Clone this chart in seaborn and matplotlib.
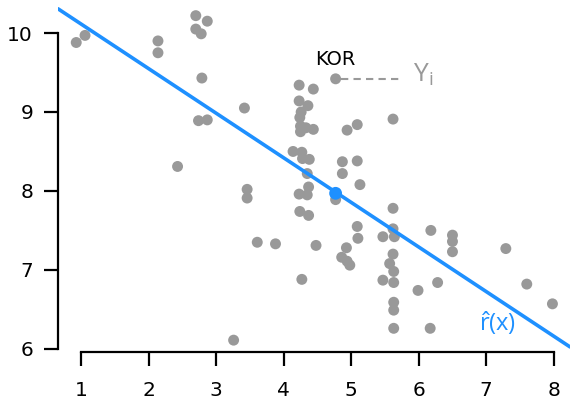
import numpy as np
import pandas as pd
import matplotlib
matplotlib.use("Agg")
import matplotlib.pyplot as plt
import seaborn as sns

# points
x_vals = [0.93, 1.06, 2.14, 2.14, 2.70, 2.87, 2.70, 2.78, 2.79, 3.42, 2.74, 2.87, 2.43,
          3.46, 3.46, 3.61, 3.88, 3.26,
          4.23, 4.44, 4.23, 4.36, 4.26, 4.24, 4.25, 4.33, 4.44, 4.25,
          4.14, 4.27, 4.38, 4.28, 4.35, 4.37, 4.23, 4.35, 4.24, 4.37, 4.48, 4.27,
          4.77, 4.77, 4.94, 5.09, 4.87, 5.09, 4.87, 5.13, 5.09, 5.10, 4.93, 4.86, 4.94, 4.98,
          5.62, 5.62, 5.47, 5.62, 5.64, 6.18, 6.50, 6.50, 6.50, 5.62, 5.57, 5.63, 5.47,
          5.63, 6.28, 5.99, 5.63, 5.63, 5.63, 6.17, 7.29, 7.60, 7.98]
y_vals = [9.88, 9.97, 9.90, 9.75, 10.22, 10.15, 10.05, 9.99, 9.43, 9.05, 8.89, 8.90, 8.31,
          8.02, 7.91, 7.35, 7.33, 6.11,
          9.34, 9.29, 9.14, 9.08, 9.00, 8.93, 8.82, 8.80, 8.78, 8.75,
          8.50, 8.49, 8.40, 8.41, 8.22, 8.05, 7.96, 7.95, 7.74, 7.69, 7.31, 6.88,
          9.42, 7.89, 8.77, 8.84, 8.37, 8.38, 8.22, 8.08, 7.55, 7.40, 7.28, 7.16, 7.11, 7.06,
          8.91, 7.78, 7.42, 7.52, 7.42, 7.50, 7.44, 7.36, 7.23, 7.20, 7.08, 6.98, 6.87,
          6.84, 6.84, 6.74, 6.59, 6.49, 6.26, 6.26, 7.27, 6.82, 6.57]

# fitted line and its centre point
fit_intercept = 10.68
fit_slope = -0.565
center_x = 4.77
center_y = 7.97

# labelled point
kor_x = 4.77
kor_y = 9.42
kor_dash_end = 5.72

x_ticks = [1, 2, 3, 4, 5, 6, 7, 8]
y_ticks = [6, 7, 8, 9, 10]

df = pd.DataFrame({"x": x_vals, "y": y_vals})

sns.set_style("ticks")
plt.rcParams["font.family"] = ["DejaVu Sans"]

gray = "#999999"
blue = "#1E90FF"

fig = plt.figure(figsize=(5.71, 4.0), dpi=100)
ax = fig.add_axes([58 / 571, 1 - 352 / 400, 512 / 571, 347 / 400])
xlim = np.array([0.66, 8.24])
ax.set_xlim(*xlim)
ax.set_ylim(5.96, 10.355)

sns.scatterplot(data=df, x="x", y="y", ax=ax, color=gray, s=62,
                edgecolor="none", zorder=2)

line_y = fit_intercept + fit_slope * xlim
sns.lineplot(x=xlim, y=line_y, ax=ax, color=blue, lw=2.6, zorder=3)
ax.scatter([center_x], [center_y], s=85, color=blue, edgecolor="none", zorder=4)

# KOR label and dashed link to Y_i
sns.lineplot(x=[kor_x + 0.08, kor_dash_end], y=[kor_y, kor_y], ax=ax, color=gray,
             lw=1.5, linestyle=(0, (3.5, 2.5)), zorder=1)
ax.text(kor_x, kor_y + 0.12, "KOR", ha="center", va="bottom", fontsize=14, color="black")
ax.text(kor_dash_end + 0.2, kor_y + 0.05, r"Y$_\mathregular{i}$", ha="left", va="center",
        fontsize=19, color=gray, family=["Open Sans", "DejaVu Sans"])
ax.text(7.17, 6.33, r"$\mathregular{\hat{r}(x)}$", ha="center", va="center",
        fontsize=17, color=blue, family=["Open Sans", "DejaVu Sans"])

ax.set_xticks(x_ticks)
ax.set_yticks(y_ticks)
ax.set_xticklabels([str(t) for t in x_ticks])
ax.set_yticklabels([str(t) for t in y_ticks])
ax.tick_params(axis="both", labelsize=14.5, length=10, width=1.6, color="black",
               labelcolor="black")
ax.tick_params(axis="x", pad=11)
ax.tick_params(axis="y", pad=8)
ax.set_xlabel("")
ax.set_ylabel("")

for side in ["top", "right"]:
    ax.spines[side].set_visible(False)
ax.spines["left"].set_bounds(6, 10)
ax.spines["bottom"].set_bounds(1, 8)
for side in ["left", "bottom"]:
    ax.spines[side].set_linewidth(1.6)
    ax.spines[side].set_color("black")
ax.patch.set_alpha(0)

fig.savefig("out.png", dpi=100)
